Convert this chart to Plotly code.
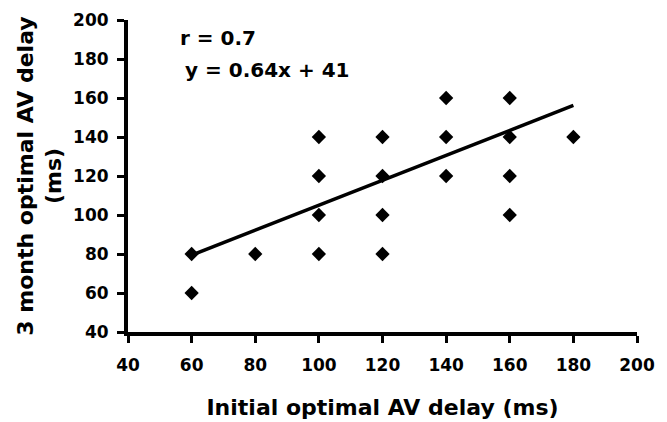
import plotly.graph_objects as go

initial_delay = [60, 60, 80, 100, 100, 100, 100, 120, 120, 120, 120, 140, 140, 140, 160, 160, 160, 160, 180]
month3_delay = [80, 60, 80, 140, 120, 100, 80, 140, 120, 100, 80, 160, 140, 120, 160, 140, 120, 100, 140]
slope = 0.64
intercept = 41
fit_x = [60, 180]
fit_y = [slope * x + intercept for x in fit_x]
tick_vals_x = [40, 60, 80, 100, 120, 140, 160, 180, 200]
tick_vals_y = [40, 60, 80, 100, 120, 140, 160, 180, 200]

font_family = "DejaVu Sans, sans-serif"

fig = go.Figure()
fig.add_trace(go.Scatter(x=fit_x, y=fit_y, mode="lines",
                         line=dict(color="black", width=3.5), showlegend=False, cliponaxis=False))
fig.add_trace(go.Scatter(x=initial_delay, y=month3_delay, mode="markers",
                         marker=dict(symbol="diamond", size=11, color="black"),
                         showlegend=False, cliponaxis=False))

fig.add_annotation(x=0.098, y=0.942, xref="paper", yref="paper", text="<b>r = 0.7</b>",
                   showarrow=False, xanchor="left", yanchor="middle",
                   font=dict(size=20, color="black", family=font_family))
fig.add_annotation(x=0.108, y=0.84, xref="paper", yref="paper", text="<b>y = 0.64x + 41</b>",
                   showarrow=False, xanchor="left", yanchor="middle",
                   font=dict(size=20, color="black", family=font_family))

axis_common = dict(showgrid=False, zeroline=False, showline=True, linecolor="black",
                   linewidth=4, ticks="outside", ticklen=7, tickwidth=3, tickcolor="black",
                   automargin=False,
                   tickfont=dict(size=17, color="black", family=font_family))

fig.update_xaxes(range=[40, 200], tickvals=tick_vals_x, ticktext=[f"<b>{v}</b>" for v in tick_vals_x],
                 ticklabelstandoff=8,
                 title=dict(text="<b>Initial optimal AV delay (ms)</b>", standoff=26,
                            font=dict(size=22, color="black", family=font_family)),
                 **axis_common)
fig.update_yaxes(range=[40, 200], tickvals=tick_vals_y, ticktext=[f"<b>{v}</b>" for v in tick_vals_y],
                 ticklabelstandoff=5,
                 title=dict(text="<b>3 month optimal AV delay<br>(ms)</b>", standoff=6,
                            font=dict(size=22, color="black", family=font_family)),
                 **axis_common)

fig.update_layout(width=667, height=422, plot_bgcolor="white", paper_bgcolor="white",
                  margin=dict(l=120, r=38, t=12, b=98),
                  font=dict(family=font_family, color="black"))

fig.write_html("out.html")
